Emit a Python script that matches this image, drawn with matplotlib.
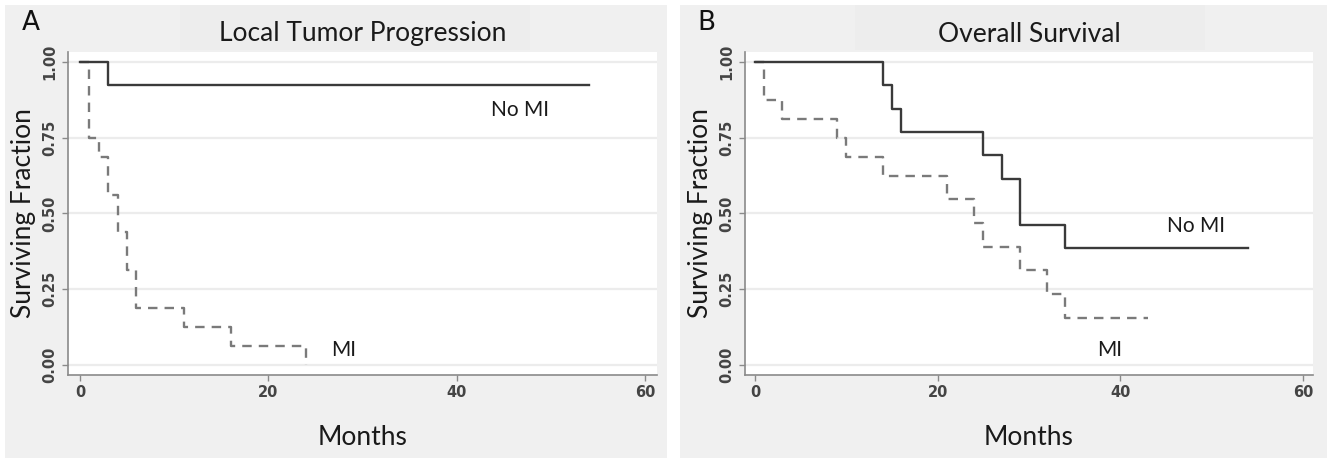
import numpy as np
import matplotlib
matplotlib.use('Agg')
import matplotlib.pyplot as plt
from matplotlib.patches import Rectangle

# Kaplan-Meier curves (months, surviving fraction)
ltp_nomi_t = [0, 3, 54]
ltp_nomi_s = [1.0, 0.923, 0.923]
ltp_mi_t = [0, 1, 2, 3, 4, 5, 6, 11, 16, 24]
ltp_mi_s = [1.0, 0.75, 0.6875, 0.5625, 0.4375, 0.3125, 0.1875, 0.125, 0.0625, 0.0]

os_nomi_t = [0, 14, 15, 16, 25, 27, 29, 34, 54]
os_nomi_s = [1.0, 0.923, 0.846, 0.769, 0.692, 0.615, 0.462, 0.385, 0.385]
os_mi_t = [0, 1, 3, 9, 10, 14, 21, 24, 25, 29, 32, 34, 43]
os_mi_s = [1.0, 0.875, 0.8125, 0.75, 0.6875, 0.625, 0.547, 0.469, 0.391, 0.3125, 0.234, 0.156, 0.156]

yticks = [0.0, 0.25, 0.5, 0.75, 1.0]
ytick_labels = ['0.00', '0.25', '0.50', '0.75', '1.00']
xticks = [0, 20, 40, 60]

panels = [
    dict(letter='A', title='Local Tumor Progression',
         nomi=(ltp_nomi_t, ltp_nomi_s), mi=(ltp_mi_t, ltp_mi_s),
         nomi_lab=(46.7, 0.84), mi_lab=(28.0, 0.05)),
    dict(letter='B', title='Overall Survival',
         nomi=(os_nomi_t, os_nomi_s), mi=(os_mi_t, os_mi_s),
         nomi_lab=(48.3, 0.46), mi_lab=(38.8, 0.05)),
]

W, H = 1337, 461
fig = plt.figure(figsize=(W / 100, H / 100), dpi=100)
fig.patch.set_facecolor('white')

bg = '#f0f0f0'
# panel backgrounds and title bands (pixel boxes -> figure fraction)
bg_boxes = [(5, 5, 667, 458), (680, 5, 1327, 458)]
title_boxes = [(180, 5, 530, 50), (855, 5, 1205, 50)]
for (x0, y0, x1, y1) in bg_boxes:
    fig.patches.append(Rectangle((x0 / W, 1 - y1 / H), (x1 - x0) / W, (y1 - y0) / H,
                                 transform=fig.transFigure, facecolor=bg,
                                 edgecolor='none', zorder=-10))
for (x0, y0, x1, y1) in title_boxes:
    fig.patches.append(Rectangle((x0 / W, 1 - y1 / H), (x1 - x0) / W, (y1 - y0) / H,
                                 transform=fig.transFigure, facecolor='#ededed',
                                 edgecolor='none', zorder=-9))

# axes boxes in pixels: left, top, right, bottom ; and x-limits
ax_boxes = [(68, 52, 657, 375), (745, 52, 1313, 375)]
xlims = [(-1.27, 61.25), (-1.09, 61.1)]
letter_pos = [(31, 23), (706, 23)]

text_font = 'Lato'
for p, box, xl, lp in zip(panels, ax_boxes, xlims, letter_pos):
    l, t, r, b = box
    ax = fig.add_axes([l / W, 1 - b / H, (r - l) / W, (b - t) / H])
    ax.set_facecolor('white')
    ax.set_xlim(*xl)
    ax.set_ylim(-0.033, 1.033)

    for y in yticks:
        ax.axhline(y, color='#ececec', lw=1.6, zorder=0)

    ax.step(p['mi'][0], p['mi'][1], where='post', color='#7a7a7a',
            lw=1.7, ls=(0, (4, 3)), zorder=2)
    ax.step(p['nomi'][0], p['nomi'][1], where='post', color='#3a3a3a',
            lw=1.7, zorder=3)

    ax.text(p['nomi_lab'][0], p['nomi_lab'][1], 'No MI', fontsize=15,
            family=text_font, ha='center', va='center', color='#1a1a1a')
    ax.text(p['mi_lab'][0], p['mi_lab'][1], 'MI', fontsize=15,
            family=text_font, ha='center', va='center', color='#1a1a1a')

    for s in ['top', 'right']:
        ax.spines[s].set_visible(False)
    for s in ['left', 'bottom']:
        ax.spines[s].set_color('#8a8a8a')
        ax.spines[s].set_linewidth(1.2)

    ax.set_yticks(yticks)
    ax.set_yticklabels(ytick_labels, rotation=90, va='center')
    ax.set_xticks(xticks)
    ax.tick_params(colors='#8a8a8a', length=4, width=1, labelsize=10.5,
                   labelcolor='#444444')
    for lab in ax.get_xticklabels() + ax.get_yticklabels():
        lab.set_fontweight('bold')

    ax.set_xlabel('Months', fontsize=19, family=text_font, color='#1a1a1a',
                  labelpad=18)
    ax.set_ylabel('Surviving Fraction', fontsize=19, family=text_font,
                  color='#1a1a1a', labelpad=5)

    cx = (l + r) / 2 / W
    fig.text(cx, 1 - 34 / H, p['title'], fontsize=19, family=text_font,
             ha='center', va='center', color='#1a1a1a')
    fig.text(lp[0] / W, 1 - lp[1] / H, p['letter'], fontsize=19,
             family='DejaVu Sans', ha='center', va='center', color='#111111')

fig.savefig('out.png', dpi=100, facecolor=fig.get_facecolor())
